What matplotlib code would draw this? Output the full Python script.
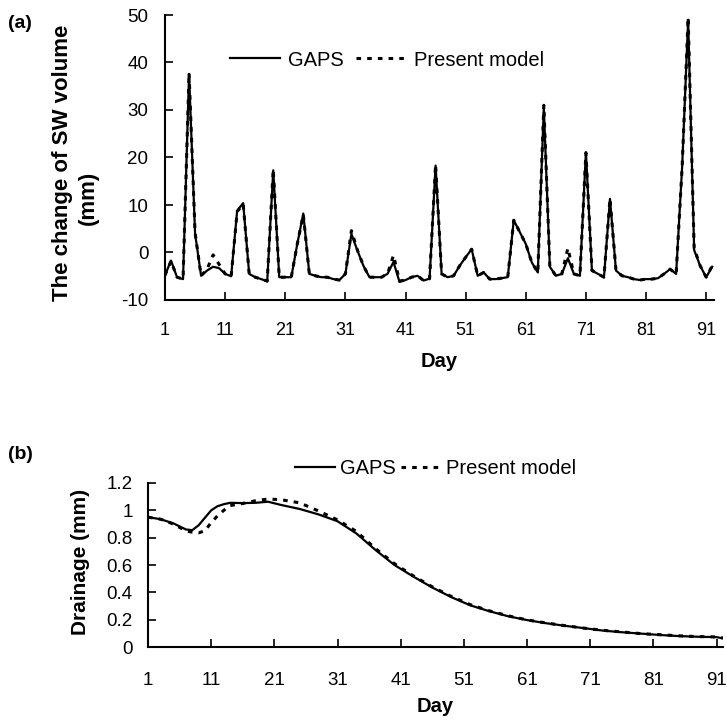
import numpy as np
import matplotlib.pyplot as plt

plt.rcParams['font.family'] = ['Liberation Sans', 'DejaVu Sans']
plt.rcParams['axes.unicode_minus'] = False

# (a) change of soil water volume, one value per day (mm)
days_a = np.arange(1, 93)
gaps_a = [-4.8, -1.7, -5.2, -5.6, 37.6, 4.0, -4.9, -3.8, -3.0, -3.3,
          -4.5, -5.0, 8.8, 10.4, -4.5, -5.2, -5.6, -6.1, 17.3, -5.2,
          -5.2, -5.2, 1.8, 8.2, -4.5, -4.9, -5.2, -5.2, -5.6, -5.8,
          -4.5, 3.9, 0.4, -2.8, -5.2, -5.2, -5.2, -4.5, -2.0, -6.2,
          -5.8, -5.2, -4.9, -5.9, -5.5, 18.3, -4.5, -5.2, -4.9, -2.8,
          -1.0, 0.7, -4.9, -4.2, -5.6, -5.6, -5.4, -5.2, 6.8, 4.3,
          1.8, -2.1, -4.2, 30.6, -3.0, -4.9, -4.5, -1.2, -4.5, -4.9,
          21.1, -3.8, -4.5, -5.2, 11.3, -3.8, -4.9, -5.2, -5.6, -5.8,
          -5.6, -5.6, -5.4, -4.5, -3.5, -4.5, 18.0, 49.0, 0.5, -2.8,
          -5.2, -3.0]
model_a = [-4.8, -1.8, -5.2, -5.6, 37.8, 4.2, -4.9, -3.5, -0.5, -2.5,
           -4.5, -5.0, 8.6, 10.2, -4.5, -5.2, -5.6, -6.0, 17.5, -5.2,
           -5.2, -5.2, 1.8, 8.0, -4.5, -4.9, -5.2, -5.2, -5.6, -5.8,
           -4.5, 4.6, 0.5, -2.8, -5.2, -5.2, -5.2, -4.5, -0.6, -6.0,
           -5.8, -5.2, -4.9, -5.9, -5.5, 18.5, -4.5, -5.2, -4.9, -2.8,
           -1.0, 0.7, -4.9, -4.2, -5.6, -5.6, -5.4, -5.2, 6.8, 4.3,
           1.8, -2.1, -4.2, 31.0, -3.0, -4.9, -4.5, 0.9, -4.5, -4.9,
           21.0, -3.8, -4.5, -5.2, 11.3, -3.8, -4.9, -5.2, -5.6, -5.8,
           -5.6, -5.6, -5.4, -4.5, -3.5, -4.5, 18.0, 49.5, 0.9, -2.8,
           -5.2, -2.8]

# (b) drainage (mm)
days_b = [1, 3, 5, 7, 8, 9, 10, 11, 12, 13, 14, 16, 18, 20, 22, 25, 28, 31,
          34, 37, 40, 43, 46, 49, 52, 55, 58, 61, 64, 67, 70, 73, 76, 79,
          82, 85, 88, 91, 92]
gaps_b = [0.95, 0.935, 0.905, 0.86, 0.855, 0.89, 0.945, 1.0, 1.03, 1.045,
          1.055, 1.053, 1.055, 1.063, 1.04, 1.01, 0.97, 0.92, 0.83, 0.71,
          0.60, 0.515, 0.435, 0.365, 0.305, 0.262, 0.225, 0.197, 0.174,
          0.155, 0.138, 0.12, 0.108, 0.098, 0.088, 0.08, 0.075, 0.072, 0.063]
model_b = [0.95, 0.935, 0.90, 0.85, 0.84, 0.835, 0.85, 0.91, 0.96, 1.0,
           1.035, 1.05, 1.07, 1.083, 1.078, 1.055, 0.995, 0.93, 0.845, 0.72,
           0.61, 0.52, 0.44, 0.37, 0.31, 0.265, 0.228, 0.198, 0.176,
           0.156, 0.138, 0.122, 0.11, 0.098, 0.09, 0.082, 0.076, 0.074, 0.066]

xticks = [1, 11, 21, 31, 41, 51, 61, 71, 81, 91]
dot_style = (0, (1.5, 2.0))

fig = plt.figure(figsize=(7.27, 7.26), dpi=100)

# ---- panel (a)
ax1 = fig.add_axes([165/727, 1-300/726, 549/727, 285/726])
ax1.plot(days_a, gaps_a, color='black', lw=1.6, label='GAPS')
ax1.plot(days_a, model_a, color='black', lw=2.2, ls=dot_style, label='Present model')
ax1.set_xlim(1, 92.3)
ax1.set_ylim(-10, 50)
ax1.set_yticks(range(-10, 51, 10))
ax1.set_xticks(xticks)
ax1.spines['top'].set_visible(False)
ax1.spines['right'].set_visible(False)
ax1.tick_params(axis='y', direction='in', length=6, width=1.2, pad=12, labelsize=13.5)
ax1.tick_params(axis='x', direction='in', length=6, width=1.2, pad=16, labelsize=13)
ax1.set_xlabel('Day', fontsize=14.5, fontweight='bold', labelpad=9)
ax1.legend(loc='center left', bbox_to_anchor=(0.085, 0.842), ncol=2, frameon=False,
           fontsize=14.5, handlelength=2.5, handletextpad=0.4, columnspacing=0.6)
fig.text(20/727, 1-23/726, '(a)', fontsize=14, fontweight='bold', ha='center', va='center')
fig.text(63/727, 1-163/726, 'The change of SW volume', fontsize=16, fontweight='bold',
         rotation=90, ha='center', va='center')
fig.text(88/727, 1-198/726, '(mm)', fontsize=16, fontweight='bold',
         rotation=90, ha='center', va='center')

# ---- panel (b)
ax2 = fig.add_axes([148/727, 1-647/726, 575/727, 164/726])
ax2.plot(days_b, gaps_b, color='black', lw=1.6, label='GAPS')
ax2.plot(days_b, model_b, color='black', lw=2.2, ls=dot_style, label='Present model')
ax2.set_xlim(1, 92)
ax2.set_ylim(0, 1.2)
ax2.set_yticks([0, 0.2, 0.4, 0.6, 0.8, 1.0, 1.2])
ax2.set_yticklabels(['0', '0.2', '0.4', '0.6', '0.8', '1', '1.2'])
ax2.set_xticks(xticks)
ax2.spines['top'].set_visible(False)
ax2.spines['right'].set_visible(False)
ax2.tick_params(axis='y', direction='in', length=6, width=1.2, pad=11, labelsize=13.5)
ax2.tick_params(axis='x', direction='in', length=6, width=1.2, pad=18, labelsize=13.5)
ax2.set_xlabel('Day', fontsize=14.5, fontweight='bold', labelpad=6)
fig.text(80/727, 1-562/726, 'Drainage (mm)', fontsize=15, fontweight='bold',
         rotation=90, ha='center', va='center')
ax2.legend(loc='center left', bbox_to_anchor=(0.224, 1.09), ncol=2, frameon=False,
           fontsize=14.5, handlelength=2.0, handletextpad=0.25, columnspacing=0.25)
fig.text(20/727, 1-455/726, '(b)', fontsize=14, fontweight='bold', ha='center', va='center')

for ax in (ax1, ax2):
    for s in ('left', 'bottom'):
        ax.spines[s].set_linewidth(1.5)

fig.savefig('out.png', dpi=100)
